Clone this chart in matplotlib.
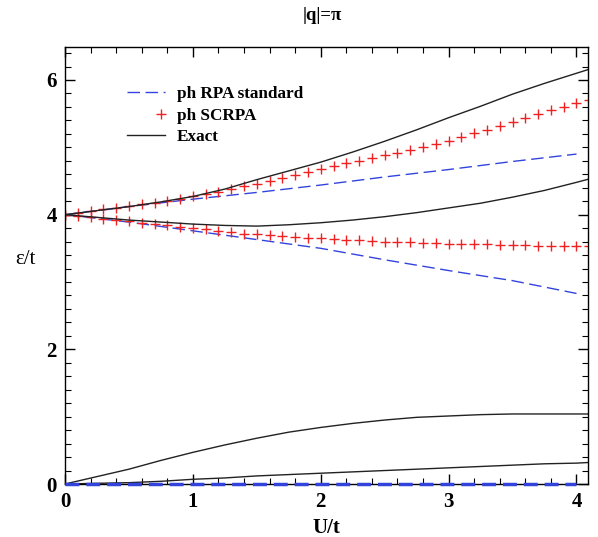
import matplotlib
matplotlib.use("Agg")
import matplotlib.pyplot as plt
from matplotlib.ticker import MultipleLocator
from matplotlib.legend_handler import HandlerLine2D

plt.rcParams['font.family'] = ['Liberation Serif', 'DejaVu Serif']

# ---- data ----
u_curve = [0.0, 0.25, 0.5, 0.75, 1.0, 1.25, 1.5, 1.75, 2.0, 2.25, 2.5, 2.75, 3.0, 3.25, 3.5, 3.75, 4.0, 4.1]
exact_top = [4.00, 4.06, 4.12, 4.19, 4.27, 4.38, 4.52, 4.65, 4.78, 4.93, 5.09, 5.26, 5.44, 5.61, 5.79, 5.95, 6.10, 6.16]
exact_mid = [4.00, 3.96, 3.92, 3.89, 3.86, 3.84, 3.83, 3.85, 3.88, 3.92, 3.97, 4.03, 4.10, 4.17, 4.26, 4.36, 4.48, 4.53]
exact_low1 = [0.00, 0.11, 0.22, 0.35, 0.47, 0.58, 0.68, 0.77, 0.84, 0.90, 0.95, 0.99, 1.01, 1.03, 1.04, 1.04, 1.04, 1.04]
exact_low2 = [0.00, 0.01, 0.02, 0.04, 0.07, 0.09, 0.12, 0.14, 0.16, 0.18, 0.20, 0.22, 0.24, 0.26, 0.28, 0.30, 0.31, 0.32]

u_rpa = [0.0, 0.5, 1.0, 1.5, 2.0, 2.5, 3.0, 3.5, 4.0]
rpa_top = [4.00, 4.12, 4.23, 4.33, 4.44, 4.56, 4.67, 4.79, 4.90]
rpa_bot = [4.00, 3.89, 3.76, 3.63, 3.50, 3.33, 3.17, 3.02, 2.83]
rpa_zero = [0.0, 0.0, 0.0, 0.0, 0.0, 0.0, 0.0, 0.0, 0.0]

u_sc = [0.0, 0.1, 0.2, 0.3, 0.4, 0.5, 0.6, 0.7, 0.8, 0.9, 1.0, 1.1, 1.2, 1.3, 1.4,
        1.5, 1.6, 1.7, 1.8, 1.9, 2.0, 2.1, 2.2, 2.3, 2.4, 2.5, 2.6, 2.7, 2.8, 2.9,
        3.0, 3.1, 3.2, 3.3, 3.4, 3.5, 3.6, 3.7, 3.8, 3.9, 4.0, 4.1]
sc_top = [4.00, 4.03, 4.05, 4.08, 4.10, 4.13, 4.16, 4.18, 4.21, 4.24, 4.27, 4.31, 4.34, 4.38, 4.42,
          4.46, 4.50, 4.55, 4.59, 4.64, 4.68, 4.72, 4.76, 4.80, 4.84, 4.88, 4.92, 4.96, 5.01, 5.05,
          5.10, 5.15, 5.21, 5.26, 5.32, 5.38, 5.43, 5.49, 5.55, 5.60, 5.66, 5.71]
sc_bot = [4.00, 3.98, 3.96, 3.94, 3.92, 3.90, 3.88, 3.86, 3.84, 3.82, 3.80, 3.78, 3.76, 3.74, 3.72,
          3.71, 3.70, 3.68, 3.67, 3.66, 3.65, 3.64, 3.63, 3.62, 3.61, 3.60, 3.60, 3.59, 3.58, 3.58,
          3.57, 3.57, 3.56, 3.56, 3.55, 3.55, 3.55, 3.54, 3.54, 3.54, 3.53, 3.53]

labels = ["ph RPA standard", "ph SCRPA", "Exact"]
x_ticks = [0, 1, 2, 3, 4]
y_ticks = [0, 2, 4, 6]


class RightMarkerHandler(HandlerLine2D):
    def get_xdata(self, legend, xdescent, ydescent, width, height, fontsize):
        x = -xdescent + width - 0.25 * fontsize
        return [x], [x]


# ---- figure ----
fig = plt.figure(figsize=(5.98, 5.37), dpi=100)
ax = fig.add_axes([65/598, 53/537, 523/598, 437/537])

blue = '#3344dd'
red = '#ee2222'
dash = (0, (9, 4))

ax.plot(u_rpa, rpa_top, color=blue, lw=1.0, linestyle=dash, label=labels[0])
ax.plot(u_rpa, rpa_bot, color=blue, lw=1.0, linestyle=dash)
ax.plot(u_rpa, rpa_zero, color=blue, lw=2.5, linestyle=(0, (4, 2)), zorder=5, clip_on=False)

sc_line, = ax.plot(u_sc, sc_top, linestyle='none', marker='+', ms=7.5, mew=1.0, color=red, label=labels[1])
ax.plot(u_sc, sc_bot, linestyle='none', marker='+', ms=7.5, mew=1.0, color=red)

ax.plot(u_curve, exact_top, color='#222222', lw=1.0, label=labels[2])
ax.plot(u_curve, exact_mid, color='#222222', lw=1.0)
ax.plot(u_curve, exact_low1, color='#222222', lw=1.0)
ax.plot(u_curve, exact_low2, color='#222222', lw=1.0)

ax.set_xlim(0, 4.09)
ax.set_ylim(0, 6.49)
ax.set_xticks(x_ticks)
ax.set_yticks(y_ticks)
ax.xaxis.set_minor_locator(MultipleLocator(0.2))
ax.yaxis.set_minor_locator(MultipleLocator(0.2))
ax.tick_params(which='both', direction='in', top=True, right=True)
ax.tick_params(which='major', length=7, width=1.0, labelsize=15, pad=6)
ax.tick_params(which='minor', length=4, width=0.8)
for lab in ax.get_xticklabels() + ax.get_yticklabels():
    lab.set_fontweight('bold')
for s in ax.spines.values():
    s.set_linewidth(1.0)

ax.set_xlabel("U/t", fontsize=15, fontweight='bold', labelpad=4)
ax.set_ylabel("ε/t", fontsize=15, rotation=0, va='center', ha='center')
ax.yaxis.set_label_coords(-0.076, 0.513)
fig.text(322/598, 1 - 16/537, "|q|=π", ha='center', va='center', fontsize=13.5, fontweight='bold')

leg = ax.legend(loc='upper left', bbox_to_anchor=(0.09, 0.945), frameon=False,
                prop={'weight': 'bold', 'size': 12.3}, handlelength=2.2, handletextpad=0.7,
                labelspacing=0.3, numpoints=1,
                handler_map={sc_line: RightMarkerHandler()})

fig.savefig("out.png", dpi=100)
